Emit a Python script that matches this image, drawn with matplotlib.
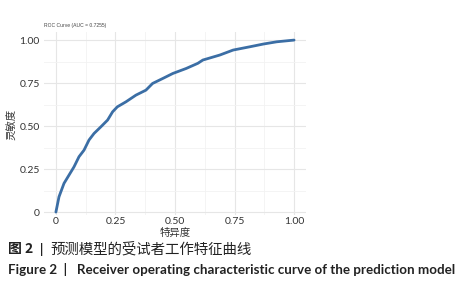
import matplotlib
matplotlib.use("Agg")
import matplotlib.pyplot as plt

# ROC points (1 - specificity on x, sensitivity on y)
fpr = [0.0, 0.013, 0.034, 0.055, 0.076, 0.097, 0.118, 0.139, 0.160, 0.189,
       0.217, 0.238, 0.258, 0.294, 0.336, 0.378, 0.406, 0.449, 0.491, 0.547,
       0.596, 0.617, 0.688, 0.744, 0.814, 0.871, 0.927, 1.0]
tpr = [0.0, 0.089, 0.167, 0.215, 0.263, 0.322, 0.360, 0.419, 0.457, 0.496,
       0.535, 0.583, 0.612, 0.641, 0.680, 0.709, 0.748, 0.777, 0.806, 0.835,
       0.865, 0.884, 0.913, 0.942, 0.961, 0.977, 0.990, 1.0]
ticks = [0, 0.25, 0.5, 0.75, 1.0]
tick_labels = ["0", "0.25", "0.50", "0.75", "1.00"]
title = "ROC Curve (AUC = 0.7255)"

cjk = ["Noto Sans CJK SC", "DejaVu Sans"]
latin = ["Lato", "DejaVu Sans"]

fig = plt.figure(figsize=(4.75, 3.0), dpi=100)
ax = fig.add_axes([44 / 475, 1 - 215 / 300, 262 / 475, 183 / 300])
ax.plot(fpr, tpr, color="#3b6ea5", lw=2.0, solid_capstyle="round",
        solid_joinstyle="round")
ax.set_xlim(-0.05, 1.05)
ax.set_ylim(-0.017, 1.047)
ax.set_xticks(ticks)
ax.set_xticklabels(tick_labels)
ax.set_yticks(ticks)
ax.set_yticklabels(tick_labels)
ax.set_xticks([0.125, 0.375, 0.625, 0.875], minor=True)
ax.set_yticks([0.125, 0.375, 0.625, 0.875], minor=True)
ax.grid(True, which="major", color="#e6e6e6", lw=0.8)
ax.grid(True, which="minor", color="#f2f2f2", lw=0.6)
ax.set_axisbelow(True)
for s in ax.spines.values():
    s.set_visible(False)
ax.tick_params(which="both", length=0, labelsize=7.5, labelcolor="#333333")
ax.tick_params(axis="x", pad=1.5)
ax.tick_params(axis="y", pad=3)
for lab in ax.get_xticklabels() + ax.get_yticklabels():
    lab.set_family(latin)

fig.text(44 / 475, 1 - 25 / 300, title, fontsize=3.6, color="#444444",
         family=["Liberation Sans", "DejaVu Sans"], va="center", ha="left")
fig.text(175 / 475, 1 - 233 / 300, "特异度", fontsize=7.5, family=cjk,
         color="#333333", ha="center", va="center")
fig.text(12 / 475, 1 - 124 / 300, "灵敏度", fontsize=7.5, family=cjk,
         color="#333333", ha="center", va="center", rotation=90)

fig.text(8 / 475, 1 - 249 / 300, "图 2", fontsize=10, family=cjk,
         fontweight="bold", color="#222222", va="center", ha="left")
fig.text(42 / 475, 1 - 249 / 300, "|", fontsize=9, family=latin,
         fontweight="bold", color="#222222", va="center", ha="center")
fig.text(50 / 475, 1 - 249 / 300, "预测模型的受试者工作特征曲线", fontsize=10.4,
         family=cjk, color="#222222", va="center", ha="left")
fig.text(8 / 475, 1 - 270 / 300,
         "Figure 2  |   Receiver operating characteristic curve of the prediction model",
         fontsize=9.6, family=latin, fontweight="bold", color="#222222",
         va="center", ha="left")

fig.savefig("out.png", dpi=100)
